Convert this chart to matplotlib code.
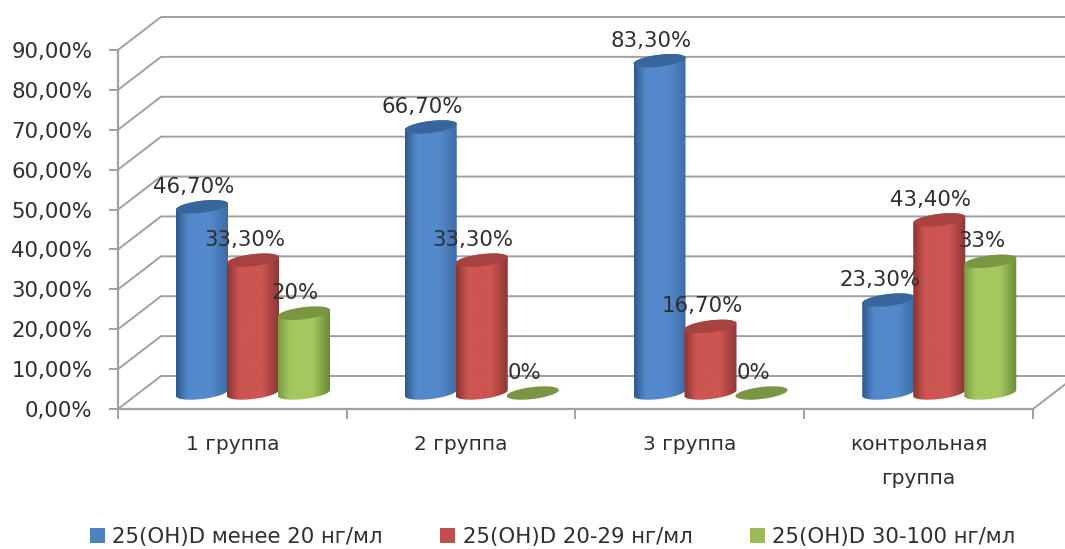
import numpy as np
import matplotlib
matplotlib.use('Agg')
import matplotlib.pyplot as plt
from matplotlib.colors import LinearSegmentedColormap
from matplotlib.patches import Patch, Polygon

categories = ['1 группа', '2 группа', '3 группа', 'контрольная\nгруппа']
series_names = ['25(OH)D менее 20 нг/мл', '25(OH)D 20-29 нг/мл', '25(OH)D 30-100 нг/мл']
low = [46.7, 66.7, 83.3, 23.3]
mid = [33.3, 33.3, 16.7, 43.4]
high = [20, 0, 0, 33]
low_labels = ['46,70%', '66,70%', '83,30%', '23,30%']
mid_labels = ['33,30%', '33,30%', '16,70%', '43,40%']
high_labels = ['20%', '0%', '0%', '33%']
y_ticks = [0, 10, 20, 30, 40, 50, 60, 70, 80, 90]

W, H = 1065, 549
X0, X1 = 118, 1033   # pixel ends of the category axis
Y0, Y90 = 409, 50    # pixel ends of the value axis
px_x = (X1 - X0) / 4
px_y = (Y0 - Y90) / 90
depth_x = 43 / px_x
depth_y = 33 / px_y
bar_w = 52 / px_x
bar_step = 51 / px_x
first_bar = 58 / px_x
base = 16 / px_y

grid_col = '#a0a0a0'
text_col = '#2f2f2f'
styles = [
    {'main': '#5389cb', 'left': '#2f5a8e', 'right': '#3f6ca6', 'top': '#38669c', 'legend': '#4f81bd'},
    {'main': '#cd5552', 'left': '#8a3432', 'right': '#8c3836', 'top': '#a64341', 'legend': '#c0504d'},
    {'main': '#a5c85e', 'left': '#7c9a45', 'right': '#6a8a38', 'top': '#7a9643', 'legend': '#9bbb59'},
]


def cylinder(ax, cx, value, st):
    a = bar_w / 2
    b = 6 / px_y
    tilt = 3 / px_y
    t = np.linspace(0, 2 * np.pi, 120)
    ell_x = cx + a * np.cos(t)
    ell_y = b * np.sin(t) + tilt * np.cos(t)
    if value > 0:
        low_half = t[(t >= np.pi)]
        up_half = t[(t <= np.pi)]
        xs = np.r_[cx + a * np.cos(low_half), cx + a * np.cos(up_half)]
        ys = np.r_[base + b * np.sin(low_half) + tilt * np.cos(low_half),
                   base + value + b * np.sin(up_half) + tilt * np.cos(up_half)]
        body = Polygon(np.c_[xs, ys], closed=True, fc='none', ec='none', transform=ax.transData)
        ax.add_patch(body)
        cmap = LinearSegmentedColormap.from_list('c', [(0, st['left']), (0.22, st['main']), (0.68, st['main']), (1, st['right'])])
        im = ax.imshow(np.linspace(0, 1, 64)[None, :], cmap=cmap, aspect='auto', interpolation='bilinear',
                       extent=(cx - a, cx + a, base - b - tilt, base + value + b + tilt), zorder=3)
        im.set_clip_path(body)
    ax.add_patch(Polygon(np.c_[ell_x, base + value + ell_y], closed=True, fc=st['top'], ec='none', zorder=3))


fig = plt.figure(figsize=(W / 100, H / 100), dpi=100)
ax = fig.add_axes([0, 0, 1, 1])

xlim = (-X0 / px_x, (W - X0) / px_x)
ylim = (-(H - Y0) / px_y, Y0 / px_y)

# 3d looking walls
for v in y_ticks:
    ax.plot([0, depth_x, xlim[1]], [v, v + depth_y, v + depth_y], color=grid_col, lw=1.4, zorder=1)
ax.plot([4, 4 + depth_x], [0, depth_y], color=grid_col, lw=1.4, zorder=1)

all_values = [low, mid, high]
all_labels = [low_labels, mid_labels, high_labels]
for s in range(3):
    for c in range(4):
        cx = c + first_bar + bar_w / 2 + s * bar_step
        cylinder(ax, cx, all_values[s][c], styles[s])
        ax.annotate(all_labels[s][c], (cx, base + all_values[s][c]), xytext=(-8.5, 20),
                    textcoords='offset pixels', ha='center', va='center',
                    fontsize=15.3, color=text_col, zorder=5)

ax.set_xlim(xlim)
ax.set_ylim(ylim)
for side in ['top', 'right']:
    ax.spines[side].set_visible(False)
ax.spines['left'].set_position(('data', 0))
ax.spines['left'].set_bounds(0, 90)
ax.spines['bottom'].set_position(('data', 0))
ax.spines['bottom'].set_bounds(0, 4)
for side in ['left', 'bottom']:
    ax.spines[side].set_color(grid_col)
    ax.spines[side].set_linewidth(1.6)

ax.set_yticks(y_ticks)
ax.set_yticklabels([f'{v},00%' for v in y_ticks], fontsize=15.3, color=text_col)
ax.tick_params(axis='y', length=6.5, width=1.4, color=grid_col, pad=12)
ax.set_xticks(range(5))
ax.set_xticklabels([])
ax.tick_params(axis='x', length=7, width=1.4, color=grid_col)
ax.set_xticks([0.5, 1.5, 2.5, 3.5], minor=True)
ax.set_xticklabels(categories, minor=True, fontsize=14.5, color=text_col, linespacing=2.0)
ax.tick_params(axis='x', which='minor', length=0, pad=19)

handles = [Patch(fc=st['legend'], ec='none') for st in styles]
fig.legend(handles, series_names, ncol=3, loc='center', bbox_to_anchor=(0.519, 1 - 537 / H),
           frameon=False, fontsize=15.3, handlelength=0.7, handleheight=0.7, handletextpad=0.35,
           columnspacing=2.7, labelcolor=text_col, borderpad=0)

fig.savefig('out.png', dpi=100)
